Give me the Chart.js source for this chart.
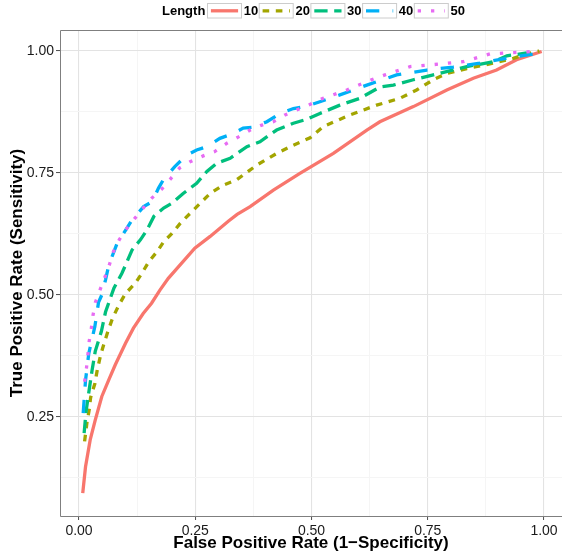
<!DOCTYPE html>
<html>
<head>
<meta charset="utf-8">
<title>ROC curves by length</title>
<script src="https://cdn.jsdelivr.net/npm/chart.js"></script>
<style>
  html, body { margin: 0; padding: 0; background: #ffffff; }
</style>
</head>
<body>
<canvas id="roc" width="562" height="554"></canvas>
<script>
// Legend entries (Length) and the ROC points.
const lengths = ['10', '20', '30', '40', '50'];

const fpr10 = [0.008, 0.014, 0.024, 0.035, 0.049, 0.064, 0.078, 0.100, 0.117, 0.138, 0.156, 0.174, 0.192, 0.217, 0.249, 0.282, 0.321, 0.340, 0.368, 0.418, 0.475, 0.547, 0.619, 0.647, 0.719, 0.791, 0.848, 0.898, 0.941, 0.995];
const tpr10 = [0.094, 0.148, 0.203, 0.244, 0.292, 0.326, 0.357, 0.401, 0.432, 0.462, 0.483, 0.510, 0.534, 0.561, 0.596, 0.620, 0.651, 0.665, 0.681, 0.715, 0.749, 0.790, 0.838, 0.855, 0.886, 0.920, 0.944, 0.961, 0.982, 0.999];

const fpr20 = [0.012, 0.017, 0.022, 0.025, 0.034, 0.039, 0.046, 0.053, 0.062, 0.072, 0.085, 0.100, 0.121, 0.135, 0.150, 0.168, 0.182, 0.200, 0.218, 0.246, 0.282, 0.310, 0.339, 0.382, 0.425, 0.461, 0.497, 0.525, 0.583, 0.640, 0.690, 0.726, 0.762, 0.791, 0.834, 0.891, 0.934, 0.963, 0.990];
const tpr20 = [0.200, 0.238, 0.265, 0.290, 0.318, 0.345, 0.375, 0.398, 0.425, 0.452, 0.478, 0.503, 0.524, 0.544, 0.568, 0.589, 0.609, 0.626, 0.647, 0.674, 0.708, 0.725, 0.736, 0.766, 0.790, 0.807, 0.822, 0.845, 0.869, 0.889, 0.903, 0.920, 0.941, 0.954, 0.964, 0.975, 0.985, 0.994, 1.000];

const fpr30 = [0.011, 0.015, 0.021, 0.028, 0.035, 0.048, 0.057, 0.075, 0.092, 0.100, 0.114, 0.132, 0.146, 0.161, 0.182, 0.200, 0.224, 0.253, 0.275, 0.296, 0.325, 0.361, 0.389, 0.425, 0.461, 0.490, 0.518, 0.561, 0.604, 0.647, 0.676, 0.719, 0.762, 0.834, 0.891, 0.920, 0.963];
const tpr30 = [0.217, 0.260, 0.300, 0.345, 0.385, 0.425, 0.465, 0.514, 0.544, 0.561, 0.592, 0.613, 0.633, 0.661, 0.678, 0.688, 0.708, 0.729, 0.753, 0.770, 0.780, 0.804, 0.814, 0.838, 0.852, 0.860, 0.872, 0.889, 0.903, 0.926, 0.930, 0.941, 0.951, 0.968, 0.978, 0.990, 0.996];

const fpr40 = [0.009, 0.011, 0.014, 0.021, 0.034, 0.042, 0.049, 0.057, 0.064, 0.082, 0.103, 0.114, 0.139, 0.157, 0.171, 0.182, 0.206, 0.232, 0.253, 0.275, 0.303, 0.332, 0.353, 0.375, 0.404, 0.432, 0.461, 0.490, 0.518, 0.561, 0.619, 0.683, 0.748, 0.805, 0.862, 0.920, 0.977];
const tpr40 = [0.258, 0.285, 0.325, 0.380, 0.435, 0.485, 0.500, 0.531, 0.561, 0.606, 0.637, 0.654, 0.681, 0.691, 0.719, 0.737, 0.763, 0.787, 0.797, 0.804, 0.821, 0.831, 0.842, 0.844, 0.855, 0.872, 0.882, 0.887, 0.896, 0.910, 0.930, 0.951, 0.961, 0.967, 0.975, 0.985, 0.994];

const fpr50 = [0.012, 0.016, 0.019, 0.022, 0.026, 0.030, 0.035, 0.045, 0.055, 0.065, 0.074, 0.087, 0.103, 0.120, 0.138, 0.156, 0.178, 0.196, 0.216, 0.239, 0.267, 0.292, 0.318, 0.343, 0.368, 0.393, 0.418, 0.443, 0.468, 0.493, 0.525, 0.576, 0.629, 0.658, 0.712, 0.773, 0.826, 0.884, 0.941, 0.990];
const tpr50 = [0.322, 0.350, 0.377, 0.406, 0.428, 0.458, 0.484, 0.510, 0.535, 0.561, 0.589, 0.614, 0.637, 0.657, 0.678, 0.698, 0.717, 0.737, 0.760, 0.773, 0.785, 0.794, 0.811, 0.824, 0.838, 0.848, 0.855, 0.869, 0.879, 0.889, 0.903, 0.920, 0.941, 0.951, 0.968, 0.973, 0.978, 0.994, 0.997, 1.000];

const xTicks = [0, 0.125, 0.25, 0.375, 0.5, 0.625, 0.75, 0.875, 1];
const yTicks = [0.125, 0.25, 0.375, 0.5, 0.625, 0.75, 0.875, 1];

// Styling
const FONT = '"Liberation Sans", Arial, Helvetica, sans-serif';
const colors = ['#F8766D', '#A3A500', '#00BF7D', '#00B0F6', '#E76BF3'];
const dashes = [[], [6.6, 6.6], [13.3, 6.6], [13.3, 13.3], [3.3, 10]];
const LW = 3.3;

const fprs = [fpr10, fpr20, fpr30, fpr40, fpr50];
const tprs = [tpr10, tpr20, tpr30, tpr40, tpr50];

const datasets = lengths.map((len, i) => ({
	label: len,
	data: fprs[i].map((x, k) => ({ x: x, y: tprs[i][k] })),
	showLine: true,
	borderColor: colors[i],
	backgroundColor: colors[i],
	borderWidth: LW,
	borderDash: dashes[i],
	borderCapStyle: 'butt',
	pointRadius: 0,
	tension: 0,
	order: lengths.length - i	// later lengths drawn on top
}));

const isMajor = v => Math.abs(v / 0.25 - Math.round(v / 0.25)) < 1e-6;

function gridOpts() {
	return {
		color: ctx => isMajor(ctx.tick.value) ? '#e3e3e3' : '#f5f5f5',
		lineWidth: ctx => isMajor(ctx.tick.value) ? 1.1 : 1,
		tickColor: ctx => isMajor(ctx.tick.value) ? '#4d4d4d' : 'rgba(0,0,0,0)',
		tickLength: 4,
		tickWidth: 1
	};
}

// Panel border and the ggplot-style legend across the top.
const decor = {
	id: 'decor',
	afterDraw(chart) {
		const ctx = chart.ctx;
		const a = chart.chartArea;
		ctx.save();
		ctx.strokeStyle = '#7f7f7f';
		ctx.lineWidth = 1;
		ctx.beginPath();
		ctx.moveTo(a.right + 2, a.top + 0.5);
		ctx.lineTo(a.left + 0.5, a.top + 0.5);
		ctx.lineTo(a.left + 0.5, a.bottom + 0.5);
		ctx.lineTo(a.right + 2, a.bottom + 0.5);
		ctx.stroke();

		ctx.font = 'bold 13px ' + FONT;
		ctx.fillStyle = '#000000';
		ctx.textBaseline = 'middle';
		ctx.textAlign = 'left';
		ctx.fillText('Length', 162, 11);
		lengths.forEach((len, i) => {
			const bx = 207.5 + i * 51.7;
			ctx.setLineDash([]);
			ctx.fillStyle = '#ffffff';
			ctx.fillRect(bx, 3.5, 34, 14.5);
			ctx.strokeStyle = '#cccccc';
			ctx.lineWidth = 1;
			ctx.strokeRect(bx, 3.5, 34, 14.5);
			ctx.strokeStyle = colors[i];
			ctx.lineWidth = LW;
			ctx.lineCap = 'butt';
			ctx.setLineDash(dashes[i]);
			ctx.beginPath();
			ctx.moveTo(bx + 3.4, 10.8);
			ctx.lineTo(bx + 30.6, 10.8);
			ctx.stroke();
			ctx.setLineDash([]);
			ctx.fillStyle = '#000000';
			ctx.fillText(len, bx + 36.2, 11);
		});
		ctx.restore();
	}
};

new Chart(document.getElementById('roc'), {
	type: 'scatter',
	data: { datasets: datasets },
	plugins: [decor],
	options: {
		responsive: false,
		animation: false,
		layout: { padding: { top: 30, left: 0, right: 0, bottom: 0 } },
		plugins: {
			legend: { display: false },
			tooltip: { enabled: false }
		},
		scales: {
			x: {
				type: 'linear',
				min: -0.0409,
				max: 1.0387,
				afterBuildTicks: s => { s.ticks = xTicks.map(v => ({ value: v })); },
				afterFit: s => { s.height = 38; },
				border: { display: false },
				grid: gridOpts(),
				ticks: {
					autoSkip: false,
					maxRotation: 0,
					padding: 3,
					color: '#1a1a1a',
					font: { family: FONT, size: 14 },
					callback: v => isMajor(v) ? v.toFixed(2) : ''
				},
				title: {
					display: true,
					text: 'False Positive Rate (1\u2212Specificity)',
					color: '#000000',
					font: { family: FONT, size: 17, weight: 'bold' },
					padding: { top: 0, bottom: 0.8 }
				}
			},
			y: {
				type: 'linear',
				min: 0.047,
				max: 1.043,
				afterBuildTicks: s => { s.ticks = yTicks.map(v => ({ value: v })); },
				afterFit: s => { s.width = 60; },
				border: { display: false },
				grid: gridOpts(),
				ticks: {
					autoSkip: false,
					padding: 2,
					color: '#1a1a1a',
					font: { family: FONT, size: 14 },
					callback: v => isMajor(v) ? v.toFixed(2) : ''
				},
				title: {
					display: true,
					text: 'True Positive Rate (Sensitivity)',
					color: '#000000',
					font: { family: FONT, size: 17, weight: 'bold' },
					padding: { top: 6.8, bottom: 0 }
				}
			}
		}
	}
});
</script>
</body>
</html>
